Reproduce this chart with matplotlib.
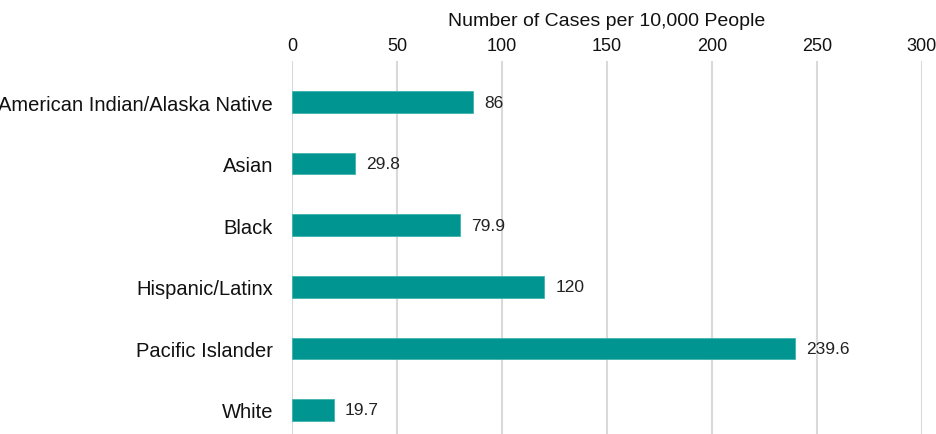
import matplotlib.pyplot as plt
from matplotlib import rcParams

rcParams["font.family"] = ["Liberation Sans", "DejaVu Sans"]

# data
groups = ["American Indian/Alaska Native", "Asian", "Black",
          "Hispanic/Latinx", "Pacific Islander", "White"]
cases = [86, 29.8, 79.9, 120, 239.6, 19.7]
value_labels = ["86", "29.8", "79.9", "120", "239.6", "19.7"]
xticks = [0, 50, 100, 150, 200, 250, 300]

fig = plt.figure(figsize=(9.37, 4.35), dpi=100)
ax = fig.add_axes([292.5 / 937, 0.0, (921.7 - 292.5) / 937, 1 - 62 / 435])

ypos = list(range(len(groups)))
ax.barh(ypos, cases, height=0.35, color="#009591", edgecolor="#3fb3ae",
        linewidth=0.6, zorder=3)

for y, v, lab in zip(ypos, cases, value_labels):
    ax.text(v + 5.3, y, lab, va="center", ha="left", fontsize=12.5,
            color="#222222", zorder=4)

ax.set_xlim(0, 300)
ax.set_ylim(5.39, -0.666)
ax.set_yticks(ypos)
ax.set_yticklabels(groups, fontsize=14.5, color="#111111")
ax.set_xticks(xticks)
ax.set_xticklabels([str(t) for t in xticks], fontsize=13, color="#111111")
ax.xaxis.tick_top()
ax.tick_params(axis="both", length=0)
ax.tick_params(axis="y", pad=14)
ax.tick_params(axis="x", pad=5)

ax.grid(axis="x", color="#d9d9d9", linewidth=1.5, zorder=0)
ax.grid(axis="y", visible=False)
for s in ax.spines.values():
    s.set_visible(False)

fig.text(607 / 937, 1 - 21 / 435, "Number of Cases per 10,000 People",
         ha="center", va="center", fontsize=14, color="#111111")

fig.savefig("out.png", dpi=100)
